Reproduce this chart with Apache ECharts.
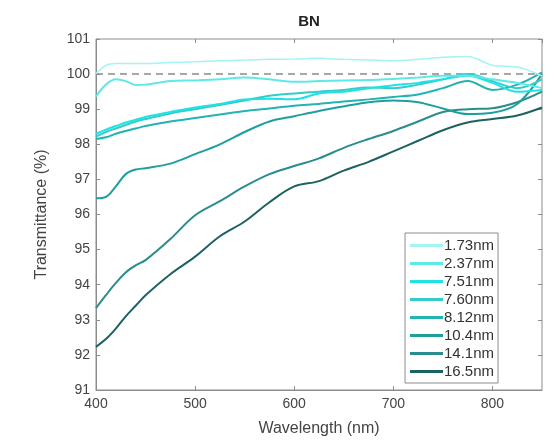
<!DOCTYPE html>
<html>
<head>
<meta charset="utf-8">
<script src="https://cdn.jsdelivr.net/npm/echarts@6/dist/echarts.min.js"></script>
<style>
  html, body { margin: 0; padding: 0; background: #fff; }
  #container { width: 553px; height: 444px; }
</style>
</head>
<body>
<div id="container"></div>
<script>
// wavelength samples (nm)
const wavelengths = [400, 410, 420, 430, 440, 450, 475, 500, 525, 550, 575, 600, 625, 650, 675, 700, 725, 750, 775, 800, 825, 850];

const names = ['1.73nm', '2.37nm', '7.51nm', '7.60nm', '8.12nm', '10.4nm', '14.1nm', '16.5nm'];
const colors = ['#a3f4f4', '#5ee9e9', '#1fe3e3', '#34cbcb', '#22b3b3', '#1e9f9f', '#2a8c8c', '#1b6262'];

const t173 = [100.02, 100.25, 100.3, 100.3, 100.3, 100.3, 100.33, 100.35, 100.38, 100.4, 100.42, 100.43, 100.45, 100.42, 100.4, 100.38, 100.42, 100.48, 100.5, 100.25, 100.2, 99.95];
const t237 = [99.36, 99.7, 99.85, 99.8, 99.69, 99.7, 99.8, 99.82, 99.85, 99.9, 99.85, 99.78, 99.8, 99.82, 99.83, 99.86, 99.9, 99.95, 99.95, 99.85, 99.75, 99.6];
const t751 = [98.3, 98.42, 98.52, 98.62, 98.7, 98.78, 98.92, 99.05, 99.15, 99.28, 99.3, 99.28, 99.45, 99.5, 99.6, 99.68, 99.75, 99.85, 99.95, 99.75, 99.5, 99.55];
const t760 = [98.22, 98.35, 98.45, 98.55, 98.65, 98.72, 98.88, 99.0, 99.12, 99.25, 99.38, 99.45, 99.5, 99.55, 99.62, 99.6, 99.7, 99.85, 100.0, 99.8, 99.6, 99.85];
const t812 = [98.15, 98.2, 98.3, 98.38, 98.45, 98.52, 98.65, 98.75, 98.85, 98.95, 99.02, 99.1, 99.15, 99.22, 99.28, 99.35, 99.42, 99.6, 99.8, 99.55, 99.7, 100.05];
const t104 = [96.46, 96.5, 96.8, 97.15, 97.28, 97.32, 97.45, 97.72, 98.0, 98.35, 98.65, 98.8, 98.95, 99.08, 99.2, 99.25, 99.2, 99.02, 98.86, 98.9, 99.15, 100.0];
const t141 = [93.33, 93.7, 94.05, 94.35, 94.55, 94.7, 95.3, 95.98, 96.38, 96.8, 97.15, 97.38, 97.6, 97.9, 98.15, 98.38, 98.65, 98.92, 99.0, 99.03, 99.2, 99.5];
const t165 = [92.23, 92.45, 92.75, 93.1, 93.4, 93.7, 94.3, 94.8, 95.38, 95.8, 96.35, 96.8, 96.95, 97.25, 97.5, 97.8, 98.1, 98.4, 98.62, 98.72, 98.82, 99.05];

const curves = [t173, t237, t751, t760, t812, t104, t141, t165];

const fontFamily = "'Liberation Sans', Arial, sans-serif";

let chart = echarts.init(document.getElementById('container'));

let series = curves.map(function (vals, i) {
    return {
        name: names[i],
        type: 'line',
        data: wavelengths.map(function (w, j) { return [w, vals[j]]; }),
        showSymbol: false,
        smooth: 0.35,
        z: 10 - i,
        lineStyle: { color: colors[i], width: i === 0 ? 1.5 : 2 },
        itemStyle: { color: colors[i] }
    };
});

// dashed reference at 100 %
series[0].markLine = {
    silent: true,
    symbol: 'none',
    label: { show: false },
    lineStyle: { color: '#8a8a8a', type: [7, 5], width: 1.5 },
    data: [{ yAxis: 100 }]
};

let option = {
    animation: false,
    backgroundColor: '#fff',
    textStyle: { fontFamily: fontFamily },
    title: {
        text: 'BN',
        left: 304,
        top: 9,
        textAlign: 'center',
        textStyle: { fontSize: 15, fontWeight: 'bold', color: '#222', fontFamily: fontFamily }
    },
    grid: {
        left: 96, right: 11, top: 39, bottom: 54,
        show: true,
        borderColor: '#8c8c8c',
        borderWidth: 1
    },
    legend: {
        orient: 'vertical',
        left: 405,
        top: 233,
        padding: [5, 4, 4, 5],
        itemGap: 3,
        itemWidth: 33,
        itemHeight: 3,
        icon: 'rect',
        borderColor: '#8c8c8c',
        borderWidth: 1,
        backgroundColor: '#fff',
        textStyle: { fontSize: 15, color: '#333', padding: [0, 0, 0, -4], fontFamily: fontFamily },
        data: names
    },
    xAxis: [{
        type: 'value',
        min: 400, max: 850, interval: 100,
        name: 'Wavelength (nm)',
        nameLocation: 'middle',
        nameGap: 31,
        nameTextStyle: { fontSize: 16, color: '#444' },
        axisLine: { show: true, lineStyle: { color: '#8c8c8c' } },
        axisTick: { show: true, inside: true, length: 4, lineStyle: { color: '#8c8c8c' } },
        axisLabel: { color: '#444', fontSize: 14, margin: 7, showMaxLabel: false },
        splitLine: { show: false }
    }, {
        type: 'value', position: 'top',
        min: 400, max: 850, interval: 100,
        axisLine: { show: false },
        axisTick: { show: true, inside: true, length: 4, lineStyle: { color: '#8c8c8c' } },
        axisLabel: { show: false },
        splitLine: { show: false }
    }],
    yAxis: [{
        type: 'value',
        min: 91, max: 101, interval: 1,
        name: 'Transmittance (%)',
        nameLocation: 'middle',
        nameGap: 46,
        nameTextStyle: { fontSize: 16, color: '#444' },
        axisLine: { show: true, lineStyle: { color: '#8c8c8c' } },
        axisTick: { show: true, inside: true, length: 4, lineStyle: { color: '#8c8c8c' } },
        axisLabel: { color: '#444', fontSize: 14, margin: 6 },
        splitLine: { show: false }
    }, {
        type: 'value', position: 'right',
        min: 91, max: 101, interval: 1,
        axisLine: { show: false },
        axisTick: { show: true, inside: true, length: 4, lineStyle: { color: '#8c8c8c' } },
        axisLabel: { show: false },
        splitLine: { show: false }
    }],
    series: series
};

chart.setOption(option);
</script>
</body>
</html>
